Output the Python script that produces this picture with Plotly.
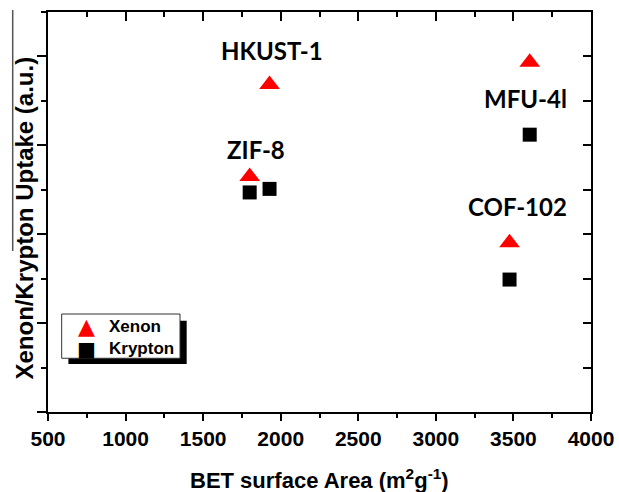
import plotly.graph_objects as go

# BET surface areas (m^2/g) of the four frameworks
materials = ["HKUST-1", "ZIF-8", "MFU-4l", "COF-102"]
bet_xenon = [1928, 1800, 3605, 3475]
bet_krypton = [1928, 1800, 3605, 3475]

# Relative gas uptake (arbitrary units)
xenon_uptake = [7.37, 5.30, 7.87, 3.81]
krypton_uptake = [5.02, 4.94, 6.24, 2.98]

x_ticks = [500, 1000, 1500, 2000, 2500, 3000, 3500, 4000]

AX_FONT = "Liberation Sans, Arial, sans-serif"
LBL_FONT = "Lato, Open Sans, sans-serif"
SYM_FONT = "DejaVu Sans, sans-serif"
XE_RED = "#ff0000"
KR_BLACK = "#000000"

fig = go.Figure()

fig.add_trace(go.Scatter(
    x=bet_xenon, y=xenon_uptake, mode="markers", name="Xenon",
    marker=dict(symbol="triangle-up", size=18, color=XE_RED,
                line=dict(width=0)),
))
fig.add_trace(go.Scatter(
    x=bet_krypton, y=krypton_uptake, mode="markers", name="Krypton",
    marker=dict(symbol="square", size=14, color=KR_BLACK,
                line=dict(width=0)),
))
# carrier trace for the top / right frame axes
fig.add_trace(go.Scatter(
    x=bet_xenon, y=xenon_uptake, xaxis="x2", yaxis="y2", mode="markers",
    marker=dict(opacity=0), showlegend=False, hoverinfo="skip",
))

common = dict(showgrid=False, zeroline=False, showline=True,
              linecolor="black", linewidth=2, tickcolor="black",
              tickwidth=2, automargin=False)

fig.update_layout(
    width=619, height=492,
    margin=dict(l=48, r=28, t=12, b=80, autoexpand=False),
    paper_bgcolor="white", plot_bgcolor="white",
    showlegend=False,
    xaxis=dict(range=[500, 4000], tickmode="array", tickvals=x_ticks,
               ticktext=[str(v) for v in x_ticks],
               ticks="outside", ticklen=7,
               minor=dict(dtick=250, tick0=500, ticks="outside", ticklen=4,
                          tickwidth=2, tickcolor="black"),
               tickfont=dict(family=AX_FONT, size=21, color="black",
                             weight="bold"),
               **common),
    yaxis=dict(range=[0, 9], tickmode="linear", tick0=0, dtick=2,
               ticks="outside", ticklen=9, showticklabels=False,
               minor=dict(dtick=1, tick0=0, ticks="outside", ticklen=5,
                          tickwidth=2, tickcolor="black"),
               **common),
    xaxis2=dict(range=[500, 4000], overlaying="x", side="top", anchor="y",
                tickmode="linear", tick0=500, dtick=500, ticks="inside",
                ticklen=9, showticklabels=False,
                minor=dict(dtick=250, tick0=500, ticks="inside", ticklen=5,
                           tickwidth=2, tickcolor="black"),
                **common),
    yaxis2=dict(range=[0, 9], overlaying="y", side="right", anchor="x",
                tickmode="linear", tick0=0, dtick=1, ticks="inside",
                ticklen=8, showticklabels=False, **common),
)

# material names placed just above their markers
label_anchor = [
    (bet_xenon[0], xenon_uptake[0], 2, 34),
    (bet_xenon[1], xenon_uptake[1], 6, 27),
    (bet_krypton[2], krypton_uptake[2], -4, 36),
    (bet_xenon[3], xenon_uptake[3], 8, 36),
]
for name, (ax, ay, dx, dy) in zip(materials, label_anchor):
    fig.add_annotation(x=ax, y=ay, text=name, showarrow=False,
                       xshift=dx, yshift=dy,
                       font=dict(family=LBL_FONT, size=24, color="black",
                                 weight="bold"))

# axis titles
fig.add_annotation(xref="paper", yref="paper", x=0.5, y=-0.1675,
                   text="BET surface Area (m<sup>2</sup>g<sup>-1</sup>)",
                   showarrow=False, yanchor="middle",
                   font=dict(family=AX_FONT, size=22, color="black",
                             weight="bold"))
fig.add_annotation(xref="paper", yref="paper", x=-0.044, y=0.484,
                   text="Xenon/Krypton Uptake (a.u.)", textangle=-90,
                   showarrow=False, xanchor="center", yanchor="middle",
                   font=dict(family=AX_FONT, size=24, color="black",
                             weight="bold"))

# legend box with drop shadow
fig.add_shape(type="rect", xref="paper", yref="paper",
              x0=0.0376, x1=0.2554, y0=0.12, y1=0.2283,
              fillcolor="black", line=dict(width=0), layer="above")
fig.add_shape(type="rect", xref="paper", yref="paper",
              x0=0.0252, x1=0.2431, y0=0.1343, y1=0.245,
              fillcolor="white", line=dict(color="#333333", width=1),
              layer="above")

# legend keys (one column of symbols, one column of names)
legend_names = ["Xenon", "Krypton"]
legend_glyphs = [("\u25B2", XE_RED, 22), ("\u25A0", KR_BLACK, 20)]
glyph_text = "<br>".join(
    f"<span style='color:{c};font-size:{s}px'>{g}</span>"
    for g, c, s in legend_glyphs)
fig.add_annotation(xref="paper", yref="paper", x=0.0713, y=0.1871,
                   text=glyph_text, showarrow=False, borderpad=0,
                   xanchor="center", yanchor="middle", align="center",
                   font=dict(family=SYM_FONT, size=17, color="black"))
fig.add_annotation(xref="paper", yref="paper", x=0.111, y=0.1871,
                   text="<br>".join(legend_names), showarrow=False,
                   borderpad=0, xanchor="left", yanchor="middle",
                   align="left",
                   font=dict(family=AX_FONT, size=17, color="black",
                             weight="bold"))

# thin rule beside the y title
fig.add_shape(type="line", xref="paper", yref="paper",
              x0=-0.065, x1=-0.065, y0=0.4025, y1=1.005,
              line=dict(color="#555555", width=1.5))

fig.write_html("out.html")
